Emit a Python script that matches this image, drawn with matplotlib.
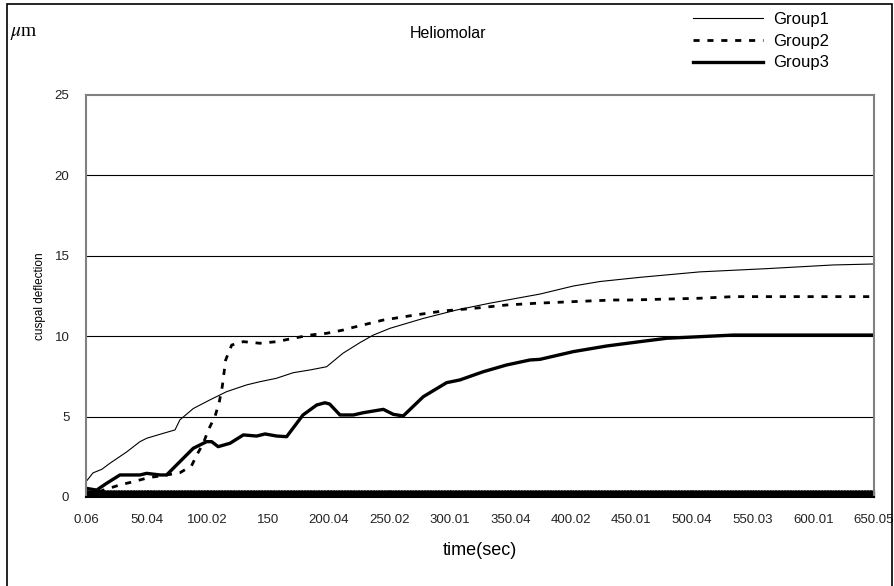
import numpy as np
import matplotlib
matplotlib.use("Agg")
import matplotlib.pyplot as plt
from matplotlib.patches import Rectangle

plt.rcParams['font.family'] = ['Liberation Sans', 'DejaVu Sans']
plt.rcParams['mathtext.fontset'] = 'stix'

# time (sec) and cuspal deflection (um)
t1 = [0, 5.8, 13, 19.8, 33.5, 44.5, 50, 63.8, 73.4, 77.5, 88.5, 102, 116, 132.5,
      143.5, 157, 171, 184.8, 198.5, 212, 226, 237, 250.8, 278, 305.8, 333, 374.5,
      402, 424, 457, 506.5, 561.5, 616.5, 650]
g1 = [0.95, 1.5, 1.72, 2.1, 2.8, 3.44, 3.65, 3.96, 4.17, 4.8, 5.5, 6.03, 6.55, 6.97,
      7.17, 7.38, 7.73, 7.9, 8.1, 8.94, 9.6, 10.07, 10.49, 11.1, 11.63, 12.05, 12.62,
      13.12, 13.4, 13.66, 14.0, 14.2, 14.43, 14.49]

t2 = [0, 5, 14.3, 28, 39, 51.4, 65, 77.5, 87, 91.3, 96.8, 100.9, 106.4, 110, 112.4,
      115.2, 120.2, 129.8, 143.5, 157.3, 171, 184.8, 198.5, 212, 220.5, 245, 270,
      294.7, 319.5, 347, 371.8, 402, 435, 448.7, 506.5, 534, 650]
g2 = [0.33, 0.15, 0.43, 0.75, 0.95, 1.2, 1.35, 1.51, 1.93, 2.6, 3.34, 4.17, 5.0, 5.93,
      6.86, 8.52, 9.45, 9.66, 9.56, 9.66, 9.87, 10.07, 10.18, 10.38, 10.55, 11.0, 11.3,
      11.57, 11.73, 11.94, 12.05, 12.15, 12.25, 12.25, 12.36, 12.46, 12.46]

t3 = [0, 8.8, 17, 28, 44.5, 50, 61, 66.5, 77.5, 88.5, 99.5, 103.7, 109, 118.8, 129.8,
      140.8, 147.7, 157.3, 165.5, 179, 190.3, 197.1, 201, 209.5, 220.5, 228.7, 245.3,
      253.5, 261.7, 278.3, 297.5, 308.5, 327.7, 347, 366.2, 374.5, 402, 429.5, 457,
      479, 534, 650]
g3 = [0.54, 0.43, 0.85, 1.37, 1.37, 1.47, 1.37, 1.37, 2.2, 3.03, 3.44, 3.44, 3.13,
      3.34, 3.86, 3.79, 3.92, 3.79, 3.75, 5.1, 5.72, 5.86, 5.78, 5.1, 5.1, 5.24, 5.45,
      5.14, 5.04, 6.24, 7.11, 7.28, 7.79, 8.21, 8.52, 8.56, 9.04, 9.39, 9.66, 9.87,
      10.07, 10.07]

xticklabels = ['0.06', '50.04', '100.02', '150', '200.04', '250.02', '300.01',
               '350.04', '400.02', '450.01', '500.04', '550.03', '600.01', '650.05']
xtickpos = [float(s) for s in xticklabels]

fig = plt.figure(figsize=(8.94, 5.86), dpi=100)
ax = fig.add_axes([0.0962, 0.1519, 0.8814, 0.686])

ax.plot(t1, g1, color='black', lw=0.8, label='Group1')
ax.plot(t2, g2, color='black', lw=2.0, ls=(0, (2.2, 2.8)), label='Group2')
ax.plot(t3, g3, color='black', lw=2.4, label='Group3')

ax.set_xlim(0.06, 650.05)
ax.set_ylim(0, 25)
ax.set_yticks([0, 5, 10, 15, 20, 25])
ax.set_xticks(xtickpos)
ax.set_xticklabels(xticklabels)
# dense category ticks that merge into a dark band along the x axis
ax.set_xticks(np.arange(0, 650.5, 0.5), minor=True)
ax.tick_params(axis='x', which='both', direction='in', length=5, width=0.8,
               labelsize=9.5, pad=12, colors='black', labelcolor='#222222')
ax.tick_params(axis='y', length=0, labelsize=9.5, pad=12, labelcolor='#222222')
for y in [5, 10, 15, 20]:
    ax.axhline(y, color='black', lw=0.8, zorder=0)
for s in ['left', 'right', 'top']:
    ax.spines[s].set_color('#808080')
    ax.spines[s].set_linewidth(1.5)
ax.spines['bottom'].set_color('black')
ax.spines['bottom'].set_linewidth(1.5)

ax.set_xlabel('time(sec)', fontsize=13, labelpad=12)
ax.set_ylabel('cuspal deflection', fontsize=8.5, labelpad=6)

fig.text(0.501, 0.942, 'Heliomolar', ha='center', va='center', fontsize=11.5)
fig.text(0.011, 0.942, r'$\mu$m', ha='left', va='center', fontsize=14,
         family='Liberation Serif')

fig.legend(loc='upper right', bbox_to_anchor=(0.944, 1.005), frameon=False,
           handlelength=4.2, handletextpad=0.6, labelspacing=0.4, fontsize=12)

fig.add_artist(Rectangle((7 / 894, -0.05), 885 / 894, 1 - 4 / 586 + 0.05,
                         transform=fig.transFigure, fill=False,
                         edgecolor='black', lw=1.2))

fig.savefig('out.png', dpi=100)
